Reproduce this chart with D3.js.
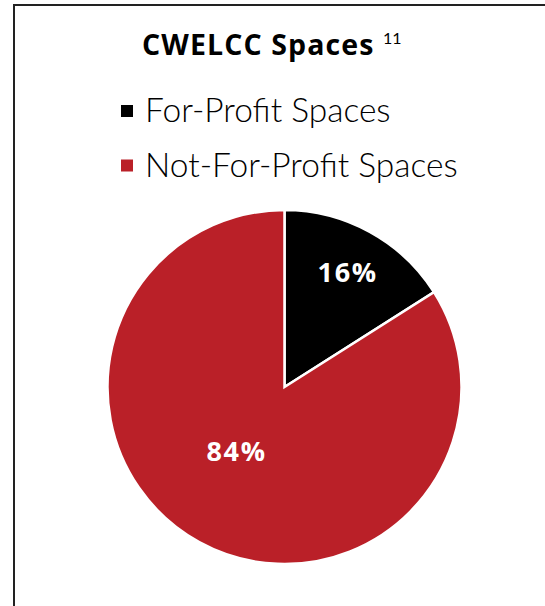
<!DOCTYPE html>
<html>
<head>
<meta charset="utf-8">
<script src="https://cdn.jsdelivr.net/npm/d3@7"></script>
<style>
  body { margin: 0; background: #fff; }
  svg { display: block; font-family: Lato, "Noto Sans", sans-serif; }
</style>
</head>
<body>
<div id="chart"></div>
<script>
// data
var categories = ["For-Profit Spaces", "Not-For-Profit Spaces"];
var shares = [16, 84];
var colors = ["#000000", "#BA2028"];

var width = 545, height = 606;
var cx = 284.5, cy = 387, radius = 177;

var svg = d3.select("#chart").append("svg")
    .attr("width", width)
    .attr("height", height);

// frame (open to the right and bottom, as cropped)
svg.append("path")
    .attr("d", "M14," + height + "V5H" + width)
    .attr("fill", "none")
    .attr("stroke", "#222")
    .attr("stroke-width", 2);

// title
var title = svg.append("text")
    .attr("x", 142)
    .attr("y", 55)
    .attr("font-family", "'Open Sans', Lato, sans-serif")
    .attr("font-size", 28.5)
    .attr("font-weight", 700)
    .attr("fill", "#000");
title.append("tspan")
    .attr("letter-spacing", 1.1)
    .text("CWELCC Spaces ");
title.append("tspan")
    .attr("font-family", "Lato, sans-serif")
    .attr("font-size", 16)
    .attr("font-weight", 400)
    .attr("dy", -11)
    .text("11");

// legend
var legend = svg.selectAll("g.legend")
    .data(categories)
    .enter().append("g")
    .attr("class", "legend")
    .attr("transform", function(d, i) { return "translate(121," + (105 + i * 54.5) + ")"; });

legend.append("rect")
    .attr("width", 12)
    .attr("height", 12)
    .attr("fill", function(d, i) { return colors[i]; });

legend.append("text")
    .attr("x", 24)
    .attr("y", 17)
    .attr("font-size", 33.5)
    .attr("font-weight", 300)
    .attr("fill", "#000")
    .text(function(d) { return d; });

// pie
var pie = d3.pie().sort(null).value(function(d) { return d; });
var arcs = pie(shares);

var arc = d3.arc().innerRadius(0).outerRadius(radius);

var g = svg.append("g")
    .attr("transform", "translate(" + cx + "," + cy + ")");

g.selectAll("path.slice")
    .data(arcs)
    .enter().append("path")
    .attr("class", "slice")
    .attr("d", arc)
    .attr("fill", function(d, i) { return colors[i]; })
    .attr("stroke", "#fff")
    .attr("stroke-width", 2.5)
    .attr("stroke-linejoin", "miter");

// label placement per slice: radius and extra angle (layout only)
var labelRadius = [131, 80];
var labelTurn = [0, 0.14];

g.selectAll("text.label")
    .data(arcs)
    .enter().append("text")
    .attr("class", "label")
    .attr("transform", function(d, i) {
        var a = (d.startAngle + d.endAngle) / 2 + labelTurn[i];
        var r = labelRadius[i];
        return "translate(" + (r * Math.sin(a)) + "," + (-r * Math.cos(a)) + ")";
    })
    .attr("text-anchor", "middle")
    .attr("dy", "0.36em")
    .attr("font-family", "'Open Sans', Lato, sans-serif")
    .attr("font-size", 27)
    .attr("font-weight", 700)
    .attr("letter-spacing", 1.6)
    .attr("fill", "#fff")
    .text(function(d) { return d.data + "%"; });
</script>
</body>
</html>
